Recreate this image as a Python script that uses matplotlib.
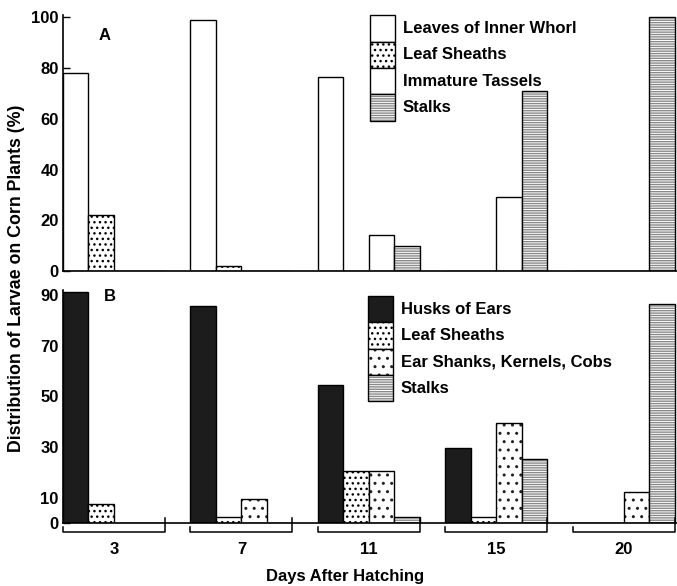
import matplotlib
matplotlib.use("Agg")
import matplotlib.pyplot as plt
from matplotlib.patches import Rectangle

plt.rcParams["font.family"] = ["Liberation Sans", "DejaVu Sans"]
plt.rcParams["font.weight"] = "bold"
plt.rcParams["hatch.linewidth"] = 1.0

days = ["3", "7", "11", "15", "20"]

# panel A
a_labels = ["Leaves of Inner Whorl", "Leaf Sheaths", "Immature Tassels", "Stalks"]
a_leaves = [78, 99, 76.5, 0, 0]
a_sheaths = [22, 2, 0, 0, 0]
a_tassels = [0, 0, 14, 29, 0]
a_stalks = [0, 0, 10, 71, 100]
a_ticks = [0, 20, 40, 60, 80, 100]

# panel B
b_labels = ["Husks of Ears", "Leaf Sheaths", "Ear Shanks, Kernels, Cobs", "Stalks"]
b_husks = [91, 85.5, 54.5, 29.5, 0]
b_sheaths = [7.5, 2.5, 20.5, 2.5, 0]
b_shanks = [0, 9.5, 20.5, 39.5, 12.5]
b_stalks = [0, 0, 2.5, 25.5, 86.5]
b_ticks = [0, 10, 30, 50, 70, 90]

W, H = 677, 586
STYLE = {
    "white": dict(facecolor="white", hatch=None, hcolor="black"),
    "dots": dict(facecolor="white", hatch="...", hcolor="black"),
    "sparse": dict(facecolor="white", hatch="..", hcolor="#222222"),
    "lines": dict(facecolor="white", hatch="-------", hcolor="#8a8a8a"),
    "dark": dict(facecolor="#1c1c1c", hatch=None, hcolor="black"),
}
a_styles = ["white", "dots", "white", "lines"]
b_styles = ["dark", "dots", "sparse", "lines"]


def fig_box(x0, y0, x1, y1):
    # pixel box (top-left origin) -> figure fraction rect
    return [x0 / W, 1 - y1 / H, (x1 - x0) / W, (y1 - y0) / H]


def styled_bar(ax, x, h, style, **kw):
    st = STYLE[style]
    ax.bar(x, h, width=1, align="edge", facecolor=st["facecolor"],
           hatch=st["hatch"], edgecolor=st["hcolor"], linewidth=0, **kw)
    ax.bar(x, h, width=1, align="edge", facecolor="none",
           edgecolor="black", linewidth=1.0, **kw)


def styled_rect(fig, x0, y0, x1, y1, style):
    st = STYLE[style]
    r = fig_box(x0, y0, x1, y1)
    fig.patches.append(Rectangle((r[0], r[1]), r[2], r[3], transform=fig.transFigure,
                                 facecolor=st["facecolor"], hatch=st["hatch"],
                                 edgecolor=st["hcolor"], linewidth=0))
    fig.patches.append(Rectangle((r[0], r[1]), r[2], r[3], transform=fig.transFigure,
                                 facecolor="none", edgecolor="black", linewidth=1.0))


def setup_axis(ax, ticks, ymax):
    ax.set_xlim(0, 24.08)
    ax.set_ylim(0, ymax)
    for s in ["top", "right"]:
        ax.spines[s].set_visible(False)
    ax.spines["left"].set_linewidth(1.2)
    ax.spines["bottom"].set_linewidth(1.2)
    ax.set_yticks(ticks)
    ax.set_yticklabels([str(t) for t in ticks], fontsize=12, fontweight="bold")
    ax.tick_params(axis="y", direction="in", length=5, width=1.0, pad=3)
    ax.set_xticks([])


fig = plt.figure(figsize=(W / 100, H / 100), dpi=100)

axA = fig.add_axes(fig_box(63, 14.8, 677, 271))
axB = fig.add_axes(fig_box(63, 289.9, 677, 523.3))

for ax, series, styles in [
    (axA, [a_leaves, a_sheaths, a_tassels, a_stalks], a_styles),
    (axB, [b_husks, b_sheaths, b_shanks, b_stalks], b_styles),
]:
    for s, (vals, st) in enumerate(zip(series, styles)):
        xs = [g * 5 + s for g in range(len(days))]
        styled_bar(ax, xs, vals, st, zorder=2)

setup_axis(axA, a_ticks, 101)
setup_axis(axB, b_ticks, 92)

axA.text(1.4, 93, "A", fontsize=12, fontweight="bold", ha="left", va="center")
axB.text(1.6, 89.5, "B", fontsize=12, fontweight="bold", ha="left", va="center")

# group brackets below panel B
for g, d in enumerate(days):
    x0, x1 = g * 5, g * 5 + 4
    axB.plot([x0, x0, x1, x1], [-1.6, -3.4, -3.4, 2.0], color="black",
             linewidth=1.1, clip_on=False)
    axB.text((x0 + x1) / 2, -10.2, d, fontsize=12, fontweight="bold",
             ha="center", va="center")

# legends drawn as stacked swatches
leg_rows = [(a_labels, a_styles, 370, 15.5), (b_labels, b_styles, 368, 296)]
for labels, styles, lx, ly in leg_rows:
    rh = 26.3
    for i, (lab, st) in enumerate(zip(labels, styles)):
        y0 = ly + i * rh
        styled_rect(fig, lx, y0, lx + 25, y0 + rh, st)
        fig.text((lx + 33) / W, 1 - (y0 + rh / 2) / H, lab, fontsize=12,
                 fontweight="bold", ha="left", va="center")

fig.text(17 / W, 1 - 278 / H, "Distribution of Larvae on Corn Plants (%)",
         rotation=90, fontsize=12.8, fontweight="bold", ha="center", va="center")
fig.text(345 / W, 1 - 577 / H, "Days After Hatching", fontsize=12,
         fontweight="bold", ha="center", va="center")

fig.savefig("out.png", dpi=100)
